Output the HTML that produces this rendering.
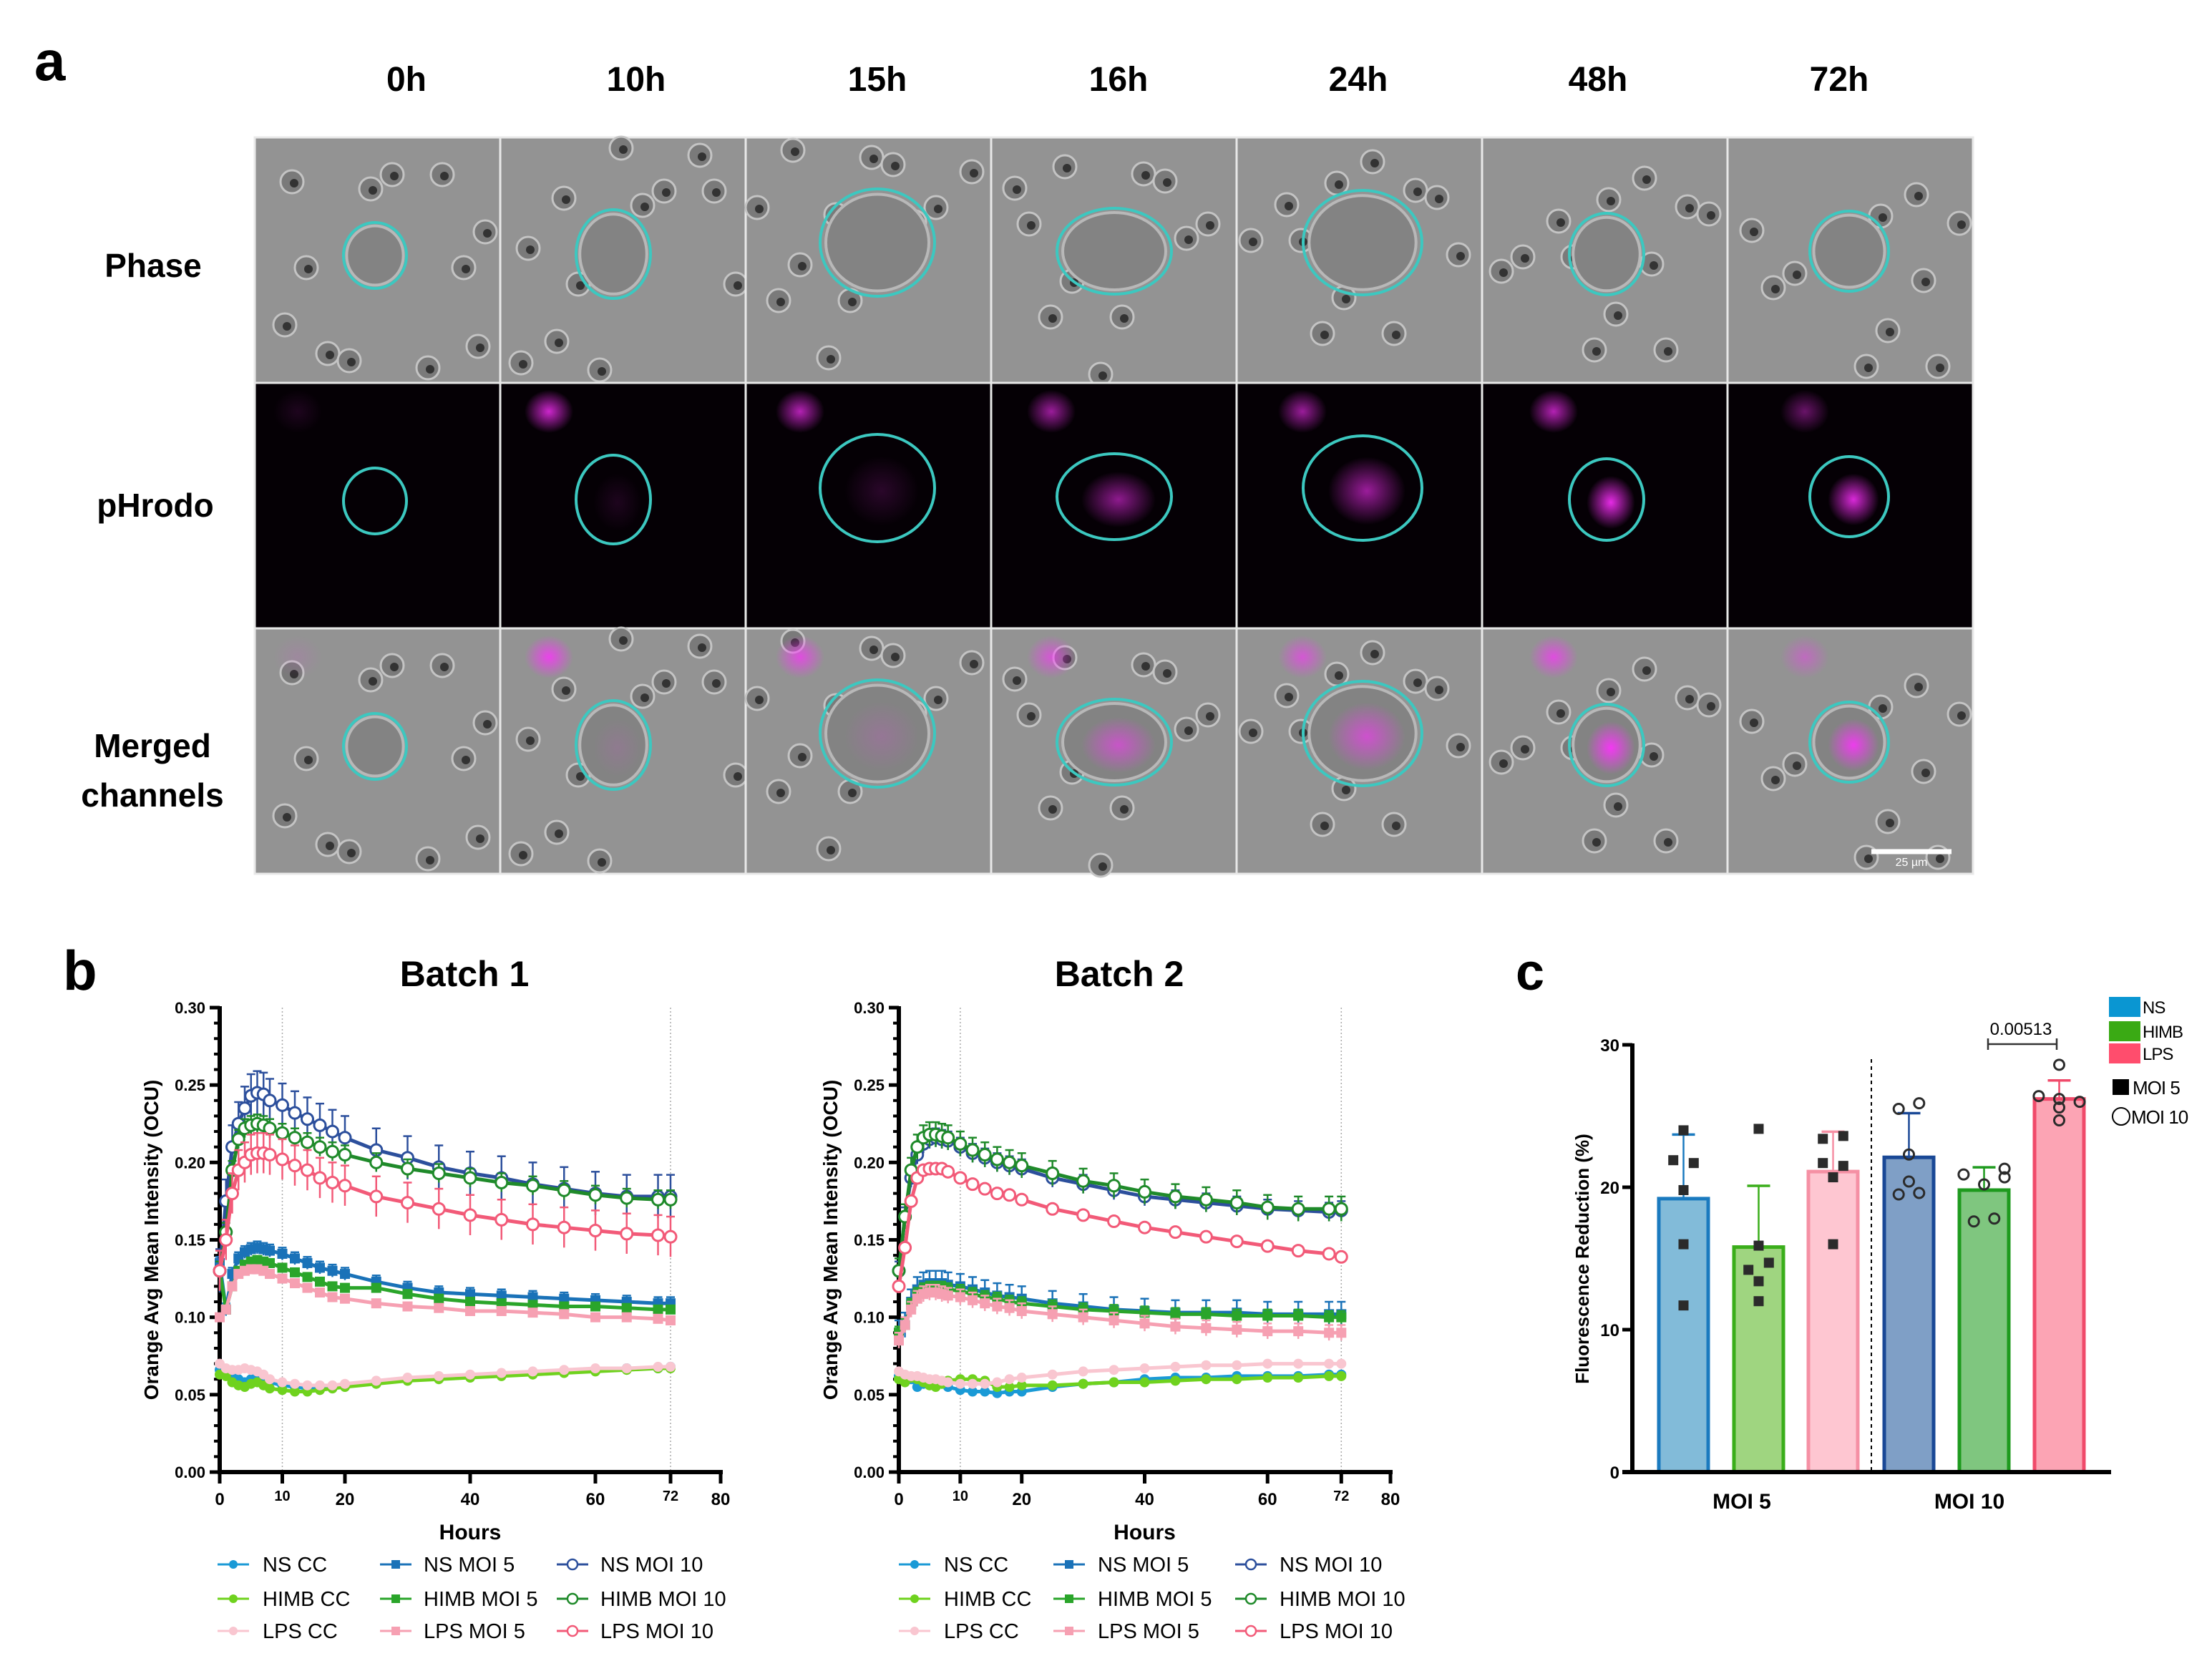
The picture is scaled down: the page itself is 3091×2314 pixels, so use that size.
<!DOCTYPE html>
<html><head><meta charset="utf-8"><title>Figure</title>
<style>
html,body{margin:0;padding:0;background:#fff;}
svg{display:block;font-family:"Liberation Sans",Arial,sans-serif;}
.nar{font-family:"Liberation Sans Narrow","Liberation Sans",sans-serif;font-weight:bold;}
</style></head>
<body>
<svg id="fig" xmlns="http://www.w3.org/2000/svg" width="3091" height="2314" viewBox="0 0 3091 2314">
<rect width="3091" height="2314" fill="#fff"/>
<g id="panelA">
<text x="48" y="112" font-size="78" font-weight="bold">a</text>
<text class="nar" x="214" y="387" font-size="46" text-anchor="middle">Phase</text>
<text class="nar" x="217" y="722" font-size="46" text-anchor="middle">pHrodo</text>
<text class="nar" x="213" y="1058" font-size="46" text-anchor="middle">Merged</text>
<text class="nar" x="213" y="1127" font-size="46" text-anchor="middle">channels</text>
</g>
<g id="panelB">
<text x="88" y="1383" font-size="78" font-weight="bold">b</text>
</g>
<g id="panelC">
<text x="2118" y="1383" font-size="72" font-weight="bold">c</text>
</g>
</svg>
<script>
var NS='http://www.w3.org/2000/svg';
function mk(tag,attrs,parent){var e=document.createElementNS(NS,tag);for(var k in attrs)e.setAttribute(k,attrs[k]);parent.appendChild(e);return e;}
var svg=document.getElementById('fig');

/* ---------- Panel a: microscopy grid ---------- */
var timeLabels=['0h','10h','15h','16h','24h','48h','72h'];
var timeLabelX=[568,889,1226,1563,1898,2233,2570];
var outlineCx=[168,158,184,172,176,174,170];
var outlineCy=[165,163,147,159,147,163,159];
var outlineRx=[44,52,80,80,83,52,55];
var outlineRy=[46,62,75,60,73,57,56];
var innerSignal=[0,0.1,0.15,0.55,0.6,0.9,0.85];
var topSignal=[0.1,0.8,0.7,0.6,0.6,0.7,0.4];
var pA=document.getElementById('panelA');
var gx0=356,gy0=192,cw=343;
var defs=mk('defs',{},svg);
var rg=mk('radialGradient',{id:'mag'},defs);
mk('stop',{offset:'0%','stop-color':'#ff30ff','stop-opacity':'1'},rg);
mk('stop',{offset:'100%','stop-color':'#ff30ff','stop-opacity':'0'},rg);
var decoX=[40,90,250,300,60,280,120,230,310,180,30,150];
var decoY=[50,290,40,280,170,170,300,310,120,40,250,60];
for(var c=0;c<7;c++){
  var x=gx0+c*cw;
  var t=mk('text',{x:timeLabelX[c],y:127,'font-size':48,'text-anchor':'middle','class':'nar'},pA);
  t.textContent=timeLabels[c];
  
  
  for(var r=0;r<3;r++){
    var y=gy0+r*cw;
    var g=mk('g',{},pA);
    
    
    mk('rect',{x:x,y:y,width:cw,height:cw,fill:r==1?'#050005':'#939393',stroke:'#e8e8e8','stroke-width':3},g);
    if(r!=1){
      for(var d=0;d<decoX.length;d++){
        var dx=(decoX[d]+c*37)%320+12, dy=(decoY[d]+c*23)%320+12;
        mk('circle',{cx:x+dx,cy:y+dy,r:16,fill:'#7a7a7a',stroke:'#c4c4c4','stroke-width':3},g);
        mk('circle',{cx:x+dx+3,cy:y+dy+2,r:6,fill:'#333'},g);
      }
      mk('ellipse',{cx:x+outlineCx[c],cy:y+outlineCy[c],rx:outlineRx[c]*0.9,ry:outlineRy[c]*0.9,fill:'#838383',stroke:'#b8b8b8','stroke-width':4},g);
    }
    if(r>=1){
      mk('ellipse',{cx:x+60+c*8,cy:y+40,rx:34,ry:30,fill:'url(#mag)',opacity:topSignal[c]},g);
      mk('ellipse',{cx:x+outlineCx[c]+6,cy:y+outlineCy[c]+4,rx:outlineRx[c]*0.65,ry:outlineRy[c]*0.65,fill:'url(#mag)',opacity:innerSignal[c]},g);
    }
    mk('ellipse',{cx:x+outlineCx[c],cy:y+outlineCy[c],rx:outlineRx[c],ry:outlineRy[c],fill:'none',stroke:'#3cc8c0','stroke-width':4},g);
  }
}
var sb=mk('line',{x1:2615,y1:1190,x2:2727,y2:1190,stroke:'#fff','stroke-width':7},pA);


var sbt=mk('text',{x:2671,y:1210,'font-size':16,fill:'#fff','text-anchor':'middle'},pA);
sbt.textContent='25 µm';



/* ---------- Panel b: time series ---------- */
var hours=[0,1,2,3,4,5,6,7,8,10,12,14,16,18,20,25,30,35,40,45,50,55,60,65,70,72];
var seriesNames=['NS CC','HIMB CC','LPS CC','NS MOI 5','HIMB MOI 5','LPS MOI 5','NS MOI 10','HIMB MOI 10','LPS MOI 10'];
var b1NSCC=[0.066,0.065,0.064,0.060,0.058,0.060,0.062,0.060,0.058,0.056,0.055,0.054,0.054,0.055,0.056,0.058,0.060,0.061,0.062,0.063,0.064,0.065,0.066,0.067,0.067,0.068];
var b1HIMBCC=[0.063,0.062,0.058,0.056,0.055,0.057,0.058,0.056,0.054,0.053,0.052,0.052,0.053,0.054,0.055,0.057,0.059,0.060,0.061,0.062,0.063,0.064,0.065,0.066,0.067,0.067];
var b1LPSCC=[0.070,0.067,0.066,0.066,0.067,0.066,0.065,0.063,0.060,0.058,0.057,0.056,0.056,0.056,0.057,0.059,0.061,0.062,0.063,0.064,0.065,0.066,0.067,0.067,0.068,0.068];
var b1NS5=[0.135,0.105,0.128,0.138,0.142,0.144,0.145,0.144,0.143,0.141,0.138,0.135,0.132,0.130,0.128,0.123,0.119,0.116,0.115,0.114,0.113,0.112,0.111,0.110,0.109,0.109];
var b1HIMB5=[0.130,0.105,0.120,0.130,0.134,0.136,0.137,0.136,0.135,0.132,0.129,0.126,0.123,0.120,0.119,0.119,0.115,0.112,0.110,0.109,0.108,0.107,0.107,0.106,0.105,0.105];
var b1LPS5=[0.100,0.105,0.120,0.128,0.130,0.131,0.131,0.130,0.128,0.125,0.122,0.119,0.116,0.113,0.112,0.109,0.107,0.106,0.104,0.104,0.103,0.102,0.100,0.100,0.099,0.098];
var b1NS10=[0.130,0.175,0.210,0.225,0.235,0.243,0.245,0.244,0.240,0.237,0.232,0.228,0.224,0.220,0.216,0.208,0.203,0.197,0.193,0.190,0.186,0.183,0.180,0.178,0.178,0.178];
var b1HIMB10=[0.130,0.155,0.195,0.215,0.222,0.224,0.225,0.224,0.222,0.219,0.216,0.213,0.210,0.207,0.205,0.200,0.196,0.193,0.190,0.187,0.185,0.182,0.179,0.177,0.176,0.176];
var b1LPS10=[0.130,0.150,0.180,0.195,0.200,0.205,0.206,0.206,0.205,0.202,0.198,0.195,0.190,0.187,0.185,0.178,0.174,0.170,0.166,0.163,0.160,0.158,0.156,0.154,0.153,0.152];
var b1Err=[0.002,0.002,0.002,0.004,0.003,0.003,0.014,0.006,0.013];
var b2NSCC=[0.062,0.060,0.060,0.055,0.057,0.059,0.058,0.057,0.055,0.053,0.052,0.052,0.051,0.052,0.052,0.055,0.057,0.058,0.060,0.061,0.061,0.062,0.062,0.062,0.063,0.063];
var b2HIMBCC=[0.060,0.058,0.061,0.060,0.058,0.056,0.055,0.057,0.059,0.060,0.060,0.059,0.055,0.055,0.056,0.056,0.057,0.058,0.058,0.059,0.060,0.060,0.061,0.061,0.062,0.062];
var b2LPSCC=[0.065,0.063,0.062,0.062,0.061,0.060,0.060,0.059,0.058,0.057,0.057,0.057,0.058,0.060,0.061,0.063,0.065,0.066,0.067,0.068,0.069,0.069,0.070,0.070,0.070,0.070];
var b2NS5=[0.090,0.095,0.110,0.118,0.121,0.122,0.122,0.122,0.121,0.120,0.118,0.116,0.114,0.113,0.112,0.109,0.107,0.105,0.104,0.103,0.103,0.103,0.102,0.102,0.102,0.102];
var b2HIMB5=[0.090,0.095,0.108,0.115,0.118,0.119,0.119,0.119,0.118,0.117,0.115,0.113,0.112,0.110,0.109,0.107,0.105,0.104,0.103,0.102,0.102,0.101,0.101,0.101,0.100,0.100];
var b2LPS5=[0.085,0.095,0.105,0.112,0.115,0.116,0.116,0.115,0.114,0.113,0.111,0.109,0.107,0.106,0.104,0.102,0.100,0.098,0.096,0.094,0.093,0.092,0.091,0.091,0.090,0.090];
var b2NS10=[0.130,0.165,0.190,0.205,0.212,0.215,0.216,0.215,0.214,0.210,0.206,0.203,0.200,0.198,0.196,0.190,0.186,0.182,0.178,0.176,0.174,0.172,0.170,0.169,0.168,0.169];
var b2HIMB10=[0.130,0.165,0.195,0.210,0.216,0.218,0.218,0.217,0.216,0.212,0.208,0.205,0.202,0.200,0.198,0.193,0.188,0.185,0.181,0.178,0.176,0.174,0.171,0.170,0.170,0.170];
var b2LPS10=[0.120,0.145,0.175,0.190,0.195,0.196,0.196,0.196,0.194,0.190,0.186,0.183,0.180,0.179,0.176,0.170,0.166,0.162,0.158,0.155,0.152,0.149,0.146,0.143,0.141,0.139];
var b2Err=[0.002,0.002,0.002,0.008,0.004,0.005,0.006,0.008,0.003];
var yTicks=[0,0.05,0.10,0.15,0.20,0.25,0.30];
var yTickLabels=['0.00','0.05','0.10','0.15','0.20','0.25','0.30'];
var xTicks=[0,10,20,40,60,72,80];
var colors=['#1a9ad6','#6fd21e','#f9c6d0','#1a72b8','#2aa52a','#f6a0b2','#2c4f9c','#1f8a2a','#f25a78'];
var markers=['dot','dot','dot','sq','sq','sq','open','open','open'];

function lineChart(gid,x0,x1,y0,y1,title,titleX,data,err,legX,legTX){
  var g=document.getElementById('panelB');
  var cg=mk('g',{},g);
  
  
  function sx(h){return x0+(h/80)*(x1-x0);}
  function sy(v){return y0-(v/0.30)*(y0-y1);}
  var tt=mk('text',{x:titleX,y:1378,'font-size':50,'font-weight':'bold','text-anchor':'middle'},cg);
  tt.textContent=title;
  
  
  [10,72].forEach(function(h){
    var gl=mk('line',{x1:sx(h),y1:y1,x2:sx(h),y2:y0,stroke:'#aaa','stroke-width':1.5,'stroke-dasharray':'2,3'},cg);
    
    
  });
  var ax=mk('g',{},cg);
  
  
  mk('line',{x1:x0,y1:y1-2,x2:x0,y2:y0+3,stroke:'#000','stroke-width':6},ax);
  for(var v=0;v<=30;v++){
    var yy=sy(v/100), major=(v%5==0);
    mk('line',{x1:x0-(major?14:8),y1:yy,x2:x0,y2:yy,stroke:'#000','stroke-width':major?5:4},ax);
  }
  yTicks.forEach(function(v,i){
    var l=mk('text',{x:x0-20,y:sy(v)+8,'font-size':22,'font-weight':'bold','text-anchor':'end'},ax);
    l.textContent=yTickLabels[i];
  });
  var xa=mk('g',{},cg);
  
  
  mk('line',{x1:x0-3,y1:y0,x2:x1+3,y2:y0,stroke:'#000','stroke-width':6},xa);
  xTicks.forEach(function(h){
    mk('line',{x1:sx(h),y1:y0,x2:sx(h),y2:y0+16,stroke:'#000','stroke-width':5},xa);
    var l=mk('text',{x:sx(h),y:y0+(h==10||h==72?40:46),'font-size':h==10||h==72?20:24,'font-weight':'bold','text-anchor':'middle'},xa);
    l.textContent=h;
  });
  var xt=mk('text',{x:(x0+x1)/2,y:y0+94,'font-size':30,'font-weight':'bold','text-anchor':'middle'},cg);
  xt.textContent='Hours';
  
  
  var yt=mk('text',{x:0,y:0,'font-size':28,'font-weight':'bold','text-anchor':'middle',transform:'translate('+(x0-86)+','+((y0+y1)/2)+') rotate(-90)'},cg);
  yt.textContent='Orange Avg Mean Intensity (OCU)';
  
  
  for(var s=0;s<data.length;s++){
    var sg=mk('g',{},cg);
    
    
    var pts=hours.map(function(h,i){return sx(h)+','+sy(data[s][i]);}).join(' ');
    mk('polyline',{points:pts,fill:'none',stroke:colors[s],'stroke-width':5},sg);
    for(var i=0;i<hours.length;i++){
      var px=sx(hours[i]),py=sy(data[s][i]);
      if(err[s]>0.003){
        var eh=(err[s]/0.30)*(y0-y1);
        mk('line',{x1:px,y1:py-eh,x2:px,y2:py+eh,stroke:colors[s],'stroke-width':2.5},sg);
        mk('line',{x1:px-6,y1:py-eh,x2:px+6,y2:py-eh,stroke:colors[s],'stroke-width':2.5},sg);
      }
      if(markers[s]=='dot')mk('circle',{cx:px,cy:py,r:7,fill:colors[s]},sg);
      else if(markers[s]=='sq')mk('rect',{x:px-7,y:py-7,width:14,height:14,fill:colors[s]},sg);
      else mk('circle',{cx:px,cy:py,r:8,fill:'#fff',stroke:colors[s],'stroke-width':3},sg);
    }
  }
  var lg=mk('g',{},cg);
  
  
  var rows=[2186,2234,2279];
  for(var s2=0;s2<9;s2++){
    var col=Math.floor(s2/3),row=s2%3;
    var eg=mk('g',{},lg);
    
    
    var mx=legX[col],my=rows[row];
    mk('line',{x1:mx-22,y1:my,x2:mx+22,y2:my,stroke:colors[s2],'stroke-width':3},eg);
    if(markers[s2]=='dot')mk('circle',{cx:mx,cy:my,r:6,fill:colors[s2]},eg);
    else if(markers[s2]=='sq')mk('rect',{x:mx-6,y:my-6,width:12,height:12,fill:colors[s2]},eg);
    else mk('circle',{cx:mx,cy:my,r:7,fill:'#fff',stroke:colors[s2],'stroke-width':2.5},eg);
    var lt=mk('text',{x:legTX[col],y:my+10,'font-size':29},eg);
    lt.textContent=seriesNames[s2];
  }
}
lineChart('chart-batch-1',307,1007,2057,1408,'Batch 1',649,[b1NSCC,b1HIMBCC,b1LPSCC,b1NS5,b1HIMB5,b1LPS5,b1NS10,b1HIMB10,b1LPS10],b1Err,[326,553,800],[367,592,839]);
lineChart('chart-batch-2',1256,1943,2057,1408,'Batch 2',1564,[b2NSCC,b2HIMBCC,b2LPSCC,b2NS5,b2HIMB5,b2LPS5,b2NS10,b2HIMB10,b2LPS10],b2Err,[1278,1494,1748],[1319,1534,1788]);

/* ---------- Panel c: bar chart ---------- */
var barNames=['NS MOI 5','HIMB MOI 5','LPS MOI 5','NS MOI 10','HIMB MOI 10','LPS MOI 10'];
var barMeans=[19.2,15.8,21.1,22.1,19.8,26.2];
var barErrTop=[23.7,20.1,23.9,25.2,21.4,27.5];
var barPoints=[[24.0,21.9,21.7,19.8,16.0,11.7],[24.1,15.9,14.7,14.2,13.4,12.0],[23.4,23.6,21.7,21.5,20.7,16.0],[25.5,25.9,22.3,20.4,19.5,19.6],[20.9,21.3,20.7,20.2,17.6,17.8],[28.6,26.2,26.4,26.0,25.6,24.7]];
var pointDx=[[0,-22,22,0,0,0],[0,0,22,-22,0,0],[-22,22,-22,22,0,0],[-22,22,0,0,-22,22],[-44,44,44,0,-22,22],[0,0,-44,44,0,0]];
var cTicks=[0,10,20,30];
var barFill=['#82bbd9','#9fd580','#fec6d1','#7f9fc6','#7fc67f','#fca4b4'];
var barStroke=['#1a7abf','#3aae1a','#f590a4','#1a4896','#1e9a1e','#f04a6a'];
var pc=document.getElementById('panelC');
var cx0=2281,cx1=2950,cy0=2057,cy1=1460;
function csy(v){return cy0-(v/30)*(cy0-cy1);}
var barLeft=[2318,2423,2527,2633,2738,2843],bw=69;
var cax=mk('g',{},pc);


mk('line',{x1:cx0,y1:cy1-2,x2:cx0,y2:cy0+3,stroke:'#000','stroke-width':6},cax);
cTicks.forEach(function(v){
  mk('line',{x1:cx0-14,y1:csy(v),x2:cx0,y2:csy(v),stroke:'#000','stroke-width':5},cax);
  var l=mk('text',{x:cx0-18,y:csy(v)+9,'font-size':24,'font-weight':'bold','text-anchor':'end'},cax);
  l.textContent=v;
});
var cyt=mk('text',{x:0,y:0,'font-size':26,'font-weight':'bold','text-anchor':'middle',transform:'translate(2220,1759) rotate(-90)'},pc);
cyt.textContent='Fluorescence Reduction (%)';


var dl=mk('line',{x1:2615,y1:1480,x2:2615,y2:cy0,stroke:'#000','stroke-width':2,'stroke-dasharray':'5,5'},pc);


for(var b=0;b<6;b++){
  var bg=mk('g',{},pc);
  
  
  var bx=barLeft[b],cxm=bx+bw/2;
  mk('line',{x1:cxm,y1:csy(barMeans[b]),x2:cxm,y2:csy(barErrTop[b]),stroke:barStroke[b],'stroke-width':2.5},bg);
  mk('line',{x1:cxm-16,y1:csy(barErrTop[b]),x2:cxm+16,y2:csy(barErrTop[b]),stroke:barStroke[b],'stroke-width':3.5},bg);
  mk('rect',{x:bx,y:csy(barMeans[b]),width:bw,height:cy0-csy(barMeans[b]),fill:barFill[b],stroke:barStroke[b],'stroke-width':5},bg);
  for(var p=0;p<6;p++){
    var ppx=cxm+pointDx[b][p]*0.65,ppy=csy(barPoints[b][p]);
    if(b<3)mk('rect',{x:ppx-7,y:ppy-7,width:14,height:14,fill:'#2b2b2b'},bg);
    else mk('circle',{cx:ppx,cy:ppy,r:7,fill:'none',stroke:'#2b2b2b','stroke-width':3},bg);
  }
}
var cxa=mk('line',{x1:cx0-14,y1:cy0,x2:cx1,y2:cy0,stroke:'#000','stroke-width':6},pc);


var groupNames=['MOI 5','MOI 10'],groupX=[2434,2752];
groupNames.forEach(function(n,i){
  var l=mk('text',{x:groupX[i],y:2108,'font-size':30,'font-weight':'bold','text-anchor':'middle'},pc);
  l.textContent=n;
  
  
});
var sig=mk('g',{},pc);


mk('line',{x1:2778,y1:1459,x2:2874,y2:1459,stroke:'#333','stroke-width':2.5},sig);
mk('line',{x1:2778,y1:1451,x2:2778,y2:1467,stroke:'#333','stroke-width':2.5},sig);
mk('line',{x1:2874,y1:1451,x2:2874,y2:1467,stroke:'#333','stroke-width':2.5},sig);
var st=mk('text',{x:2824,y:1446,'font-size':24,'text-anchor':'middle'},sig);
st.textContent='0.00513';
var legNames=['NS','HIMB','LPS'],legCol=['#0a96d2','#3aaa14','#ff4d6d'],legY=[1393,1427,1458];
var cl=mk('g',{},pc);


legNames.forEach(function(n,i){
  var eg=mk('g',{},cl);
  
  
  mk('rect',{x:2947,y:legY[i],width:44,height:28,fill:legCol[i]},eg);
  var t=mk('text',{x:2994,y:legY[i]+23,'font-size':24,'letter-spacing':'-1'},eg);
  t.textContent=n;
});
var e5=mk('g',{},cl);


mk('rect',{x:2952,y:1508,width:23,height:22,fill:'#000'},e5);
var t5=mk('text',{x:2980,y:1529,'font-size':26,'letter-spacing':'-1'},e5);t5.textContent='MOI 5';
var e10=mk('g',{},cl);


mk('circle',{cx:2964,cy:1560,r:12,fill:'none',stroke:'#000','stroke-width':2},e10);
var t10=mk('text',{x:2978,y:1570,'font-size':26,'letter-spacing':'-1'},e10);t10.textContent='MOI 10';
</script>
</body></html>
